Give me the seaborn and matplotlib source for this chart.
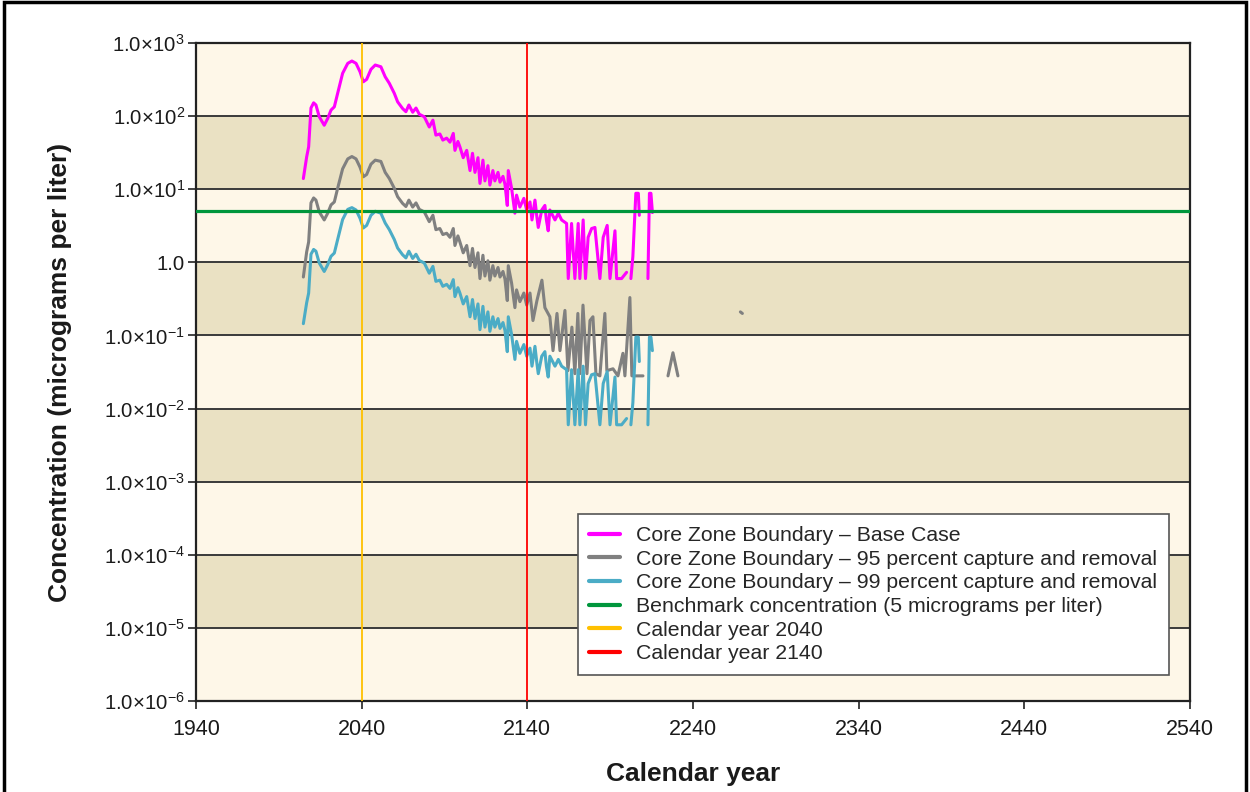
import numpy as np
import pandas as pd
import matplotlib
matplotlib.use('Agg')
import matplotlib.pyplot as plt
from matplotlib.lines import Line2D
from matplotlib.patches import Rectangle
import seaborn as sns

nan = np.nan

# --- data ---
years_base = [2004.8, 2006.8, 2008.0, 2009.4, 2011.0, 2012.4, 2014.4, 2017.4, 2019.5, 2021.5,
              2023.5, 2025.5, 2028.5, 2031.6, 2034.1, 2036.6, 2039.0, 2041.0, 2043.0, 2045.6,
              2048.2, 2051.6, 2054.2, 2056.7, 2059.7, 2061.7, 2064.7, 2066.7, 2068.5, 2070.8,
              2072.8, 2074.8, 2077.8, 2080.8, 2083.0, 2084.8, 2087.2, 2089.0, 2091.3, 2093.3,
              2095.3, 2096.3, 2098.1, 2099.3, 2101.3, 2103.4, 2105.4, 2106.9, 2108.4, 2110.2,
              2111.4, 2113.2, 2114.4, 2116.2, 2117.4, 2119.2, 2120.4, 2122.3, 2123.5, 2125.3,
              2126.5, 2127.9, 2128.5, 2130.5, 2132.5, 2133.5, 2135.5, 2137.9, 2139.6, 2141.6,
              2142.8, 2144.6, 2145.8, 2146.6, 2148.7, 2150.6, 2151.5, 2152.6, 2153.6, 2156.7,
              2158.7, 2160.7, 2163.7, 2164.7, 2166.7, 2168.7, 2170.7, 2171.7, 2173.7, 2175.1,
              2176.7, 2178.8, 2180.8, 2183.8, 2185.8, 2188.2, 2189.9, 2192.9, 2193.9, 2196.9,
              2199.9, 2201.0, 2202.5, 2203.7, 2205.5, 2207.0, 2207.6, 2210.0, 2212.8, 2213.7,
              2214.6, 2215.5]
conc_base = [14, 27.7, 38, 129, 152, 142, 98, 75, 93, 121,
             134, 205, 385, 527, 567, 527, 404, 295, 318, 436,
             500, 473, 345, 281, 205, 157, 127, 115, 142, 113,
             129, 106, 98, 71, 88, 55, 57, 47, 50, 44,
             58, 34, 45, 38, 27, 34, 18, 31, 17, 27,
             12, 25, 13, 21, 11.4, 18, 13, 17, 12.5, 15,
             11.7, 6.0, 18, 10.3, 4.7, 8.3, 5.7, 7.5, 5.2, 6.7,
             3.8, 7.1, 4.1, 3.0, 5.2, 6.0, 3.8, 2.7, 5.2, 3.8,
             4.7, 3.8, 3.4, 0.60, 3.4, 0.60, 3.4, 0.60, 3.8, 0.60,
             2.2, 2.9, 3.0, 0.60, 2.2, 3.2, 0.60, 2.7, 0.60, 0.60,
             0.73, nan, 0.60, 1.2, 8.8, 8.8, 4.4, nan, 0.60, 8.8,
             8.8, 4.8]

years_95 = [2004.8, 2006.8, 2008.0, 2009.4, 2011.0, 2012.4, 2014.4, 2017.4, 2019.5, 2021.5,
            2023.5, 2025.5, 2028.5, 2031.6, 2034.1, 2036.6, 2039.0, 2041.0, 2043.0, 2045.6,
            2048.2, 2051.6, 2054.2, 2056.7, 2059.7, 2061.7, 2064.7, 2066.7, 2068.5, 2070.8,
            2072.8, 2074.8, 2077.8, 2080.8, 2083.0, 2084.8, 2087.2, 2089.0, 2091.3, 2093.3,
            2095.3, 2096.3, 2098.1, 2099.3, 2101.3, 2103.4, 2105.4, 2106.9, 2108.4, 2110.2,
            2111.4, 2113.2, 2114.4, 2116.2, 2117.4, 2119.2, 2120.4, 2122.3, 2123.5, 2125.3,
            2126.5, 2127.9, 2128.5, 2130.5, 2132.5, 2133.5, 2135.5, 2137.9,
            2139.6, 2141.6, 2143.4, 2145.8, 2148.8, 2150.6, 2153.6, 2155.5, 2157.9, 2159.7,
            2162.7, 2164.5, 2166.9, 2168.7, 2170.5, 2171.7, 2173.6, 2176.0, 2177.8, 2179.6,
            2181.4, 2183.8, 2186.8, 2188.0, 2191.7, 2194.7, 2197.7, 2198.9, 2201.9, 2203.1,
            2209.8, 2217.0, 2224.9, 2227.9, 2230.9, 2250.0, 2268.6, 2269.8]
conc_95 = [0.63, 1.39, 1.9, 6.5, 7.6, 7.1, 4.9, 3.8, 4.7, 6.1,
           6.7, 10.3, 19, 26, 28, 26, 20, 14.8, 15.9, 22,
           25, 24, 17, 14, 10.3, 7.9, 6.4, 5.8, 7.1, 5.7,
           6.5, 5.3, 4.9, 3.6, 4.4, 2.8, 2.9, 2.4, 2.5, 2.2,
           2.9, 1.7, 2.3, 1.9, 1.35, 1.7, 0.9, 1.55, 0.85, 1.35,
           0.6, 1.25, 0.65, 1.05, 0.57, 0.9, 0.65, 0.85, 0.63, 0.75,
           0.59, 0.30, 0.9, 0.52, 0.24, 0.42, 0.29, 0.38,
           0.26, 0.38, 0.16, 0.30, 0.57, 0.24, 0.18, 0.062, 0.20, 0.062,
           0.22, 0.033, 0.13, 0.030, 0.20, 0.030, 0.26, 0.030, 0.16, 0.18,
           0.030, 0.028, 0.20, 0.033, 0.035, 0.028, 0.057, 0.028, 0.33, 0.028,
           0.028, nan, 0.028, 0.058, 0.028, nan, 0.21, 0.20]

years_99 = years_base
conc_99 = [0.145, 0.28, 0.38, 1.29, 1.5, 1.42, 0.98, 0.75, 0.93, 1.21,
           1.34, 2.05, 3.85, 5.3, 5.6, 5.2, 4.0, 2.95, 3.2, 4.4,
           5.0, 4.7, 3.45, 2.8, 2.05, 1.57, 1.27, 1.15, 1.42, 1.13,
           1.29, 1.06, 0.98, 0.71, 0.88, 0.55, 0.57, 0.47, 0.50, 0.44,
           0.58, 0.34, 0.45, 0.38, 0.27, 0.34, 0.18, 0.31, 0.17, 0.27,
           0.12, 0.25, 0.13, 0.21, 0.114, 0.18, 0.13, 0.17, 0.125, 0.15,
           0.117, 0.060, 0.18, 0.103, 0.047, 0.083, 0.057, 0.075, 0.052, 0.067,
           0.038, 0.071, 0.041, 0.030, 0.052, 0.060, 0.038, 0.027, 0.052, 0.038,
           0.047, 0.038, 0.034, 0.0060, 0.034, 0.0060, 0.034, 0.0060, 0.038, 0.0060,
           0.022, 0.029, 0.030, 0.0060, 0.022, 0.032, 0.0060, 0.027, 0.0060, 0.0060,
           0.0073, nan, 0.0060, 0.012, 0.095, 0.095, 0.044, nan, 0.0060, 0.095,
           0.095, 0.062]

benchmark = 5.0
year_2040 = 2040
year_2140 = 2140

x_ticks = [1940, 2040, 2140, 2240, 2340, 2440, 2540]
y_ticks = [1e-6, 1e-5, 1e-4, 1e-3, 1e-2, 1e-1, 1, 1e1, 1e2, 1e3]
y_tick_labels = ['1.0×10$^{-6}$', '1.0×10$^{-5}$', '1.0×10$^{-4}$', '1.0×10$^{-3}$',
                 '1.0×10$^{-2}$', '1.0×10$^{-1}$', '1.0', '1.0×10$^{1}$',
                 '1.0×10$^{2}$', '1.0×10$^{3}$']
series_labels = ['Core Zone Boundary – Base Case',
                 'Core Zone Boundary – 95 percent capture and removal',
                 'Core Zone Boundary – 99 percent capture and removal']
ref_labels = ['Benchmark concentration (5 micrograms per liter)',
              'Calendar year 2040', 'Calendar year 2140']

c_base, c_95, c_99 = '#FF00FF', '#808080', '#4BACC6'
c_bench, c_2040, c_2140 = '#00963C', '#FFC000', '#FF0000'
cream, tan = '#FEF7E8', '#EAE1C3'

# --- build a long table, split lines at gaps ---
frames = []
for name, yrs, vals in [('base', years_base, conc_base),
                        ('95', years_95, conc_95),
                        ('99', years_99, conc_99)]:
    d = pd.DataFrame({'year': yrs, 'conc': vals})
    d['seg'] = d['conc'].isna().cumsum()
    d['series'] = name
    frames.append(d.dropna())
df = pd.concat(frames, ignore_index=True)

sns.set_style('ticks')
plt.rcParams['font.family'] = ['Liberation Sans', 'DejaVu Sans']
plt.rcParams['mathtext.fontset'] = 'custom'
plt.rcParams['mathtext.rm'] = 'Liberation Sans'
plt.rcParams['mathtext.it'] = 'Liberation Sans:italic'
plt.rcParams['mathtext.bf'] = 'Liberation Sans:bold'

fig = plt.figure(figsize=(12.5, 7.92), dpi=100)
ax = fig.add_axes([0.1568, 0.1149, 0.7952, 0.8308])
ax.set_yscale('log')
ax.set_xlim(1940, 2540)
ax.set_ylim(1e-6, 1e3)
ax.set_facecolor(cream)

# alternating decade bands
for lo in [1e1, 1e-1, 1e-3, 1e-5]:
    ax.axhspan(lo, lo * 10, color=tan, zorder=0, lw=0)
for t in y_ticks[1:-1]:
    ax.axhline(t, color='#3a3a3a', lw=1.4, zorder=1)

for name, col in [('base', c_base), ('95', c_95), ('99', c_99)]:
    sns.lineplot(data=df[df['series'] == name], x='year', y='conc', units='seg',
                 estimator=None, sort=False, color=col, lw=2.2, ax=ax, zorder=3,
                 solid_capstyle='round', solid_joinstyle='round')

ax.axhline(benchmark, color=c_bench, lw=2.3, zorder=4)
ax.axvline(year_2040, color=c_2040, lw=1.3, zorder=4)
ax.axvline(year_2140, color=c_2140, lw=1.3, zorder=4)

ax.set_xticks(x_ticks)
ax.set_xticklabels([str(x) for x in x_ticks], fontsize=15.5)
ax.set_yticks(y_ticks)
ax.set_yticklabels(y_tick_labels, fontsize=14.7)
ax.minorticks_off()
ax.yaxis.set_minor_locator(matplotlib.ticker.NullLocator())
ax.tick_params(axis='both', direction='out', length=6, width=1.2, color='#222222',
               labelcolor='#1a1a1a')
ax.tick_params(axis='x', pad=7)
ax.tick_params(axis='y', pad=2)
for s in ax.spines.values():
    s.set_color('#222222')
    s.set_linewidth(1.6)

ax.set_xlabel('Calendar year', fontsize=19, fontweight='bold', color='#1a1a1a', labelpad=16)
ax.set_ylabel('Concentration (micrograms per liter)', fontsize=19, fontweight='bold',
              color='#1a1a1a', labelpad=23)

handles = [Line2D([], [], color=c, lw=3) for c in
           [c_base, c_95, c_99, c_bench, c_2040, c_2140]]
leg = ax.legend(handles, series_labels + ref_labels, loc='lower left',
                bbox_to_anchor=(0.384, 0.0395), fontsize=15.3, frameon=True,
                fancybox=False, framealpha=1, edgecolor='#555555',
                labelspacing=0.22, handlelength=1.45, handletextpad=0.75,
                borderpad=0.55, borderaxespad=0)
leg.get_frame().set_linewidth(1.2)
leg.set_zorder(6)

# outer frame of the figure
fig.patches.append(Rectangle((0.003, -0.02), 0.994, 1.017, transform=fig.transFigure,
                             fill=False, edgecolor='black', lw=2.5))

fig.savefig('out.png', dpi=100)
